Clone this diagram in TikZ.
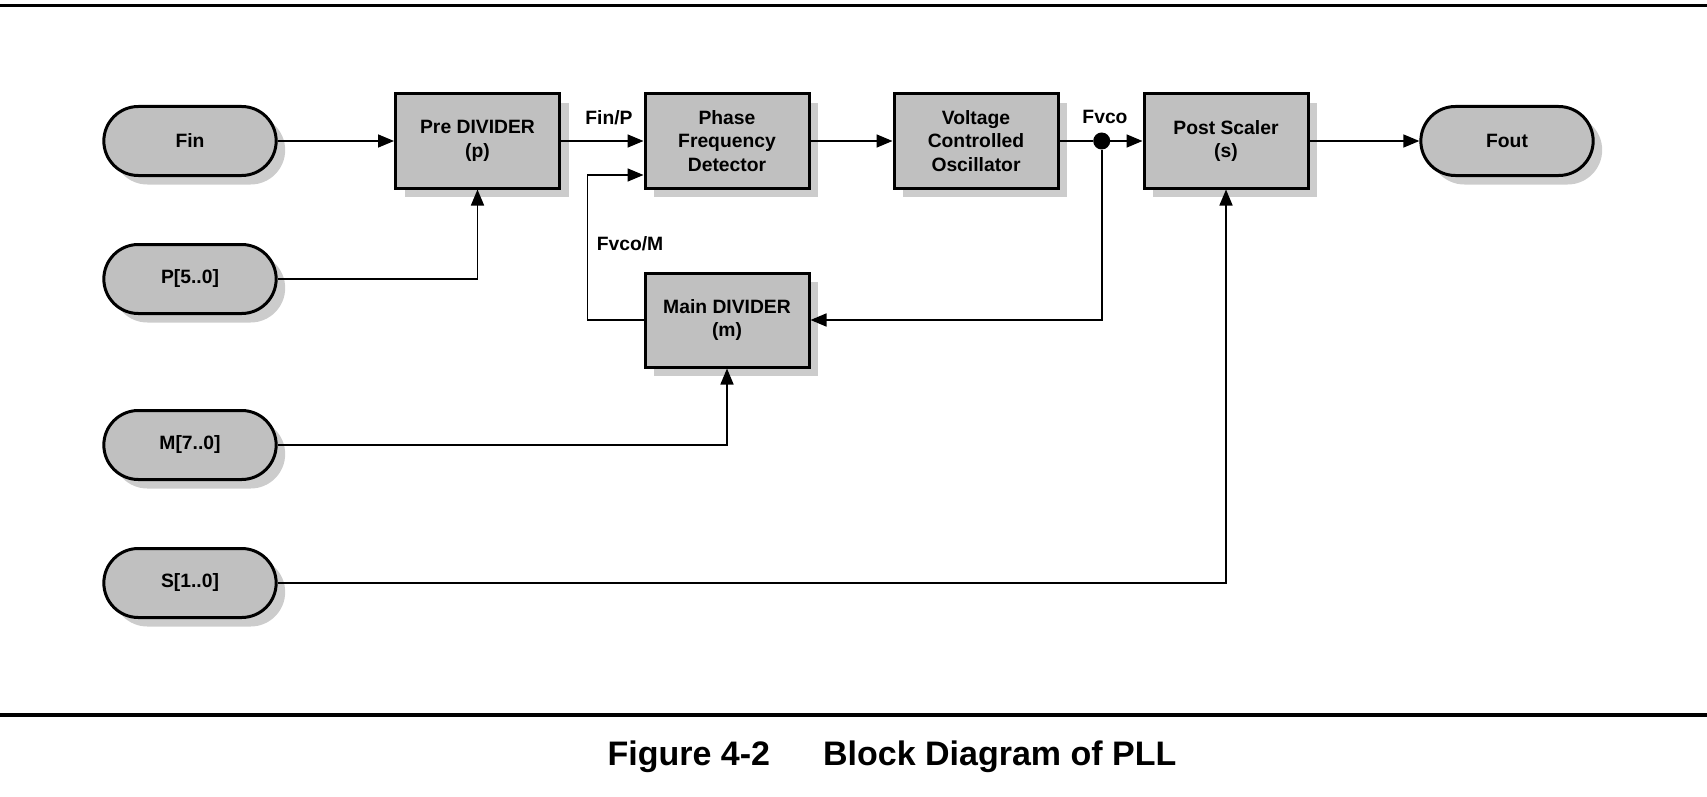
\documentclass[tikz,border=0pt]{standalone}
\usepackage{fontspec}
\setmainfont{Liberation Sans}
\usetikzlibrary{arrows.meta,shapes.misc,shadows}
\definecolor{boxgray}{RGB}{192,192,192}
\definecolor{shadegray}{RGB}{204,204,204}
\newcommand{\blockfont}{\fontsize{19.3}{23.4}\selectfont\bfseries}
\tikzset{
  shade9/.style={drop shadow={shadow xshift=9pt, shadow yshift=-9pt, fill=shadegray, opacity=1}},
  block/.style={rectangle, draw, line width=3pt, fill=boxgray, minimum width=164pt, minimum height=94pt, align=center, font=\blockfont, shade9},
  port/.style={rounded rectangle, draw, line width=3pt, fill=boxgray, minimum width=179pt, minimum height=69pt, font=\blockfont, shade9},
  tag/.style={font=\blockfont, inner sep=0pt},
  wire/.style={line width=1.6pt, -{Triangle[length=16pt,width=13pt]}},
  rule/.style={line width=3.5pt}
}
\begin{document}
\begin{tikzpicture}[x=1pt, y=-1pt]
      \useasboundingbox (0,0) rectangle (1707,797);
      \draw[rule] (0,5.5) -- (1707,5.5);
      \draw[rule] (0,715) -- (1707,715);
      \draw
        (190,141) node[port] (fin){Fin}
        (190,279) node[port] (psel){P[5..0]}
        (190,445) node[port] (msel){M[7..0]}
        (190,583) node[port] (ssel){S[1..0]}
        (477.5,141) node[block] (pre){Pre DIVIDER\\(p)}
        (727,141) node[block] (pfd){Phase\\Frequency\\Detector}
        (976,141) node[block] (vco){Voltage\\Controlled\\Oscillator}
        (1226,141) node[block] (post){Post Scaler\\(s)}
        (1507,141) node[port] (fout){Fout}
        (727,320) node[block] (main){Main DIVIDER\\(m)}
        (1101.7,141) node[circle, fill, inner sep=0pt, minimum size=17pt] (split){};
      \node[tag] (finp) at (609,117.6) {Fin/P};
      \node[tag] (fvco) at (1105,116.5) {Fvco};
      \node[tag] (fvcom) at (630,244) {Fvco/M};
      \coordinate (pfdin) at ([yshift=-34pt]pfd.west);
      \node[font=\fontsize{34}{40}\selectfont\bfseries] (caption) at (892,757) {Figure 4-2\hspace{53pt}Block Diagram of PLL};
      \begin{scope}[wire]
        \draw (fin) -- (pre);
        \draw (psel) -| (pre);
        \draw (pre) -- (pfd);
        \draw (pfd) -- (vco);
        \draw[-] (vco) -- (split);
        \draw (split) -- (post);
        \draw (split) |- (main);
        \draw (main.west) -- ++(-56,0) |- (pfdin);
        \draw (msel) -| (main);
        \draw (ssel) -| (post);
        \draw (post) -- (fout);
      \end{scope}
    \end{tikzpicture}
\end{document}
